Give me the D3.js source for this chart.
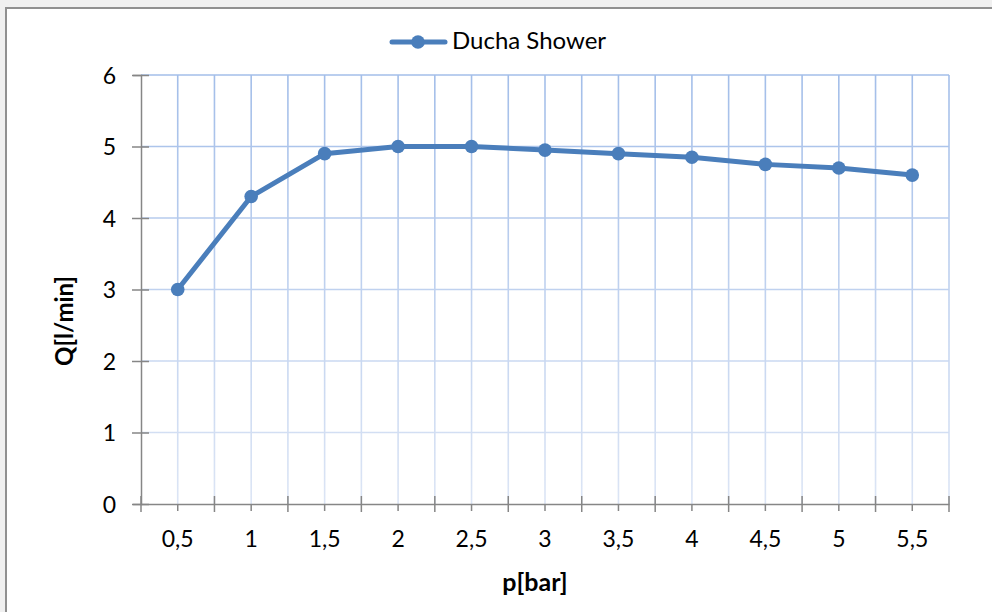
<!DOCTYPE html>
<html><head><meta charset="utf-8">
<script src="https://cdn.jsdelivr.net/npm/d3@7"></script>
<style>html,body{margin:0;padding:0;background:#f0f0f0;}svg{display:block;}</style>
</head><body>
<svg id="c" width="992" height="612"></svg>
<script>
const categories = ["0,5","1","1,5","2","2,5","3","3,5","4","4,5","5","5,5"];
const values = [3, 4.3, 4.9, 5.0, 5.0, 4.95, 4.9, 4.85, 4.75, 4.7, 4.6];
const yTicks = [0,1,2,3,4,5,6];
const seriesName = "Ducha Shower";
const xTitle = "p[bar]";
const yTitle = "Q[l/min]";

const svg = d3.select("#c");
const font = "Lato, 'Open Sans', sans-serif";
const L = 141, R = 949, T = 75, B = 504;

svg.append("rect").attr("x",6).attr("y",8).attr("width",992).attr("height",612)
  .attr("fill","#fff").attr("stroke","#909090").attr("stroke-width",2);

const defs = svg.append("defs");
const g = defs.append("linearGradient").attr("id","gg").attr("gradientUnits","userSpaceOnUse")
  .attr("x1",0).attr("y1",T).attr("x2",0).attr("y2",B);
g.append("stop").attr("offset","0").attr("stop-color","#a3bee9");
g.append("stop").attr("offset","1").attr("stop-color","#dce5f5");

const x = d3.scaleBand().domain(categories).range([L,R]).padding(0);
const y = d3.scaleLinear().domain([0,6]).range([B,T]);

// vertical gridlines at boundaries and centers
const vpos = [];
categories.forEach((c,i)=>{ vpos.push(x(c)); vpos.push(x(c)+x.bandwidth()/2); });
vpos.push(R);
svg.append("g").selectAll("line").data(vpos.slice(1)).join("line")
  .attr("x1",d=>d).attr("x2",d=>d).attr("y1",T).attr("y2",B)
  .attr("stroke","url(#gg)").attr("stroke-width",1.6);
svg.append("g").selectAll("line").data(yTicks.slice(1)).join("line")
  .attr("x1",L).attr("x2",R).attr("y1",d=>y(d)).attr("y2",d=>y(d))
  .attr("stroke","url(#gg)").attr("stroke-width",1.6);

// y axis
const ya = svg.append("g").attr("transform",`translate(${L},0)`)
  .call(d3.axisLeft(y).tickValues(yTicks).tickSize(8).tickFormat(d3.format("d")));
ya.select(".domain").attr("stroke","#868686").attr("stroke-width",1.5);
ya.selectAll(".tick line").attr("stroke","#868686").attr("stroke-width",1.5).attr("x2",-9).attr("x1",8);
ya.selectAll(".tick text").attr("x",-25).attr("dy","0.36em").attr("font-family",font).attr("font-size",23).attr("fill","#000");

// x axis
const xa = svg.append("g").attr("transform",`translate(0,${B})`)
  .call(d3.axisBottom(x).tickSize(7).tickSizeOuter(0));
xa.select(".domain").attr("stroke","#868686").attr("stroke-width",1.5);
xa.selectAll(".tick line").attr("stroke","#868686").attr("stroke-width",1.5);
xa.selectAll(".tick text").attr("y",43).attr("dy",0).attr("font-family",font).attr("font-size",23).attr("fill","#000");
xa.append("g").selectAll("line").data([L].concat(categories.map(c=>x(c)+x.bandwidth())))
  .join("line").attr("x1",d=>d).attr("x2",d=>d).attr("y1",-8).attr("y2",8)
  .attr("stroke","#868686").attr("stroke-width",1.5);

// line
const line = d3.line().x((d,i)=>x(categories[i])+x.bandwidth()/2).y(d=>y(d));
svg.append("path").datum(values).attr("d",line).attr("fill","none")
  .attr("stroke","#4a7ebb").attr("stroke-width",5).attr("stroke-linejoin","round");
svg.append("g").selectAll("circle").data(values).join("circle")
  .attr("cx",(d,i)=>x(categories[i])+x.bandwidth()/2).attr("cy",d=>y(d)).attr("r",6.8)
  .attr("fill","#4a7ebb");

// titles
svg.append("text").attr("x",535).attr("y",591).attr("text-anchor","middle")
  .attr("font-family",font).attr("font-weight","bold").attr("font-size",25).text(xTitle);
svg.append("text").attr("transform","translate(73,321) rotate(-90)").attr("text-anchor","middle")
  .attr("font-family",font).attr("font-weight","bold").attr("font-size",24).text(yTitle);

// legend
const lg = svg.append("g");
lg.append("line").attr("x1",392).attr("x2",445).attr("y1",42).attr("y2",42)
  .attr("stroke","#4a7ebb").attr("stroke-width",5).attr("stroke-linecap","round");
lg.append("circle").attr("cx",418).attr("cy",42).attr("r",6.8).attr("fill","#4a7ebb");
lg.append("text").attr("x",452).attr("y",49).attr("font-family",font).attr("font-size",24).text(seriesName);
</script>
</body></html>
